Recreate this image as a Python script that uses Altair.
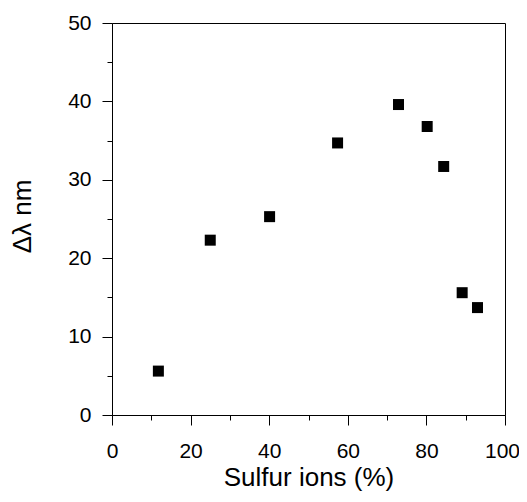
import altair as alt
import pandas as pd

# Data
sulfur_pct = [11.8, 25.0, 40.1, 57.4, 72.9, 80.2, 84.4, 89.1, 93.0]
delta_lambda = [5.6, 22.3, 25.3, 34.7, 39.6, 36.8, 31.7, 15.6, 13.7]

x_ticks = [0, 10, 20, 30, 40, 50, 60, 70, 80, 90, 100]
y_ticks = [0, 5, 10, 15, 20, 25, 30, 35, 40, 45, 50]

df = pd.DataFrame({"x": sulfur_pct, "y": delta_lambda})

FONT = "Liberation Sans"

x_axis = alt.Axis(
    values=x_ticks,
    tickSize={"condition": {"test": "datum.value % 20 === 0", "value": 10}, "value": 5},
    labelExpr="datum.value % 20 === 0 ? datum.label : ''",
    labelOffset={"condition": {"test": "datum.value === 100", "value": -3}, "value": 0},
    labelFont=FONT, labelFontSize=21, labelColor="black", labelPadding=15,
    labelOverlap=False, labelFlush=False, labelBound=False,
    domainColor="black", tickColor="black", grid=False,
    title="Sulfur ions (%)", titleFont=FONT, titleFontSize=26,
    titleFontWeight="normal", titleColor="black",
    titleBaseline="alphabetic", titleY=70,
)

y_axis = alt.Axis(
    values=y_ticks,
    tickSize={"condition": {"test": "datum.value % 10 === 0", "value": 10}, "value": 5},
    labelExpr="datum.value % 10 === 0 ? datum.label : ''",
    labelFont=FONT, labelFontSize=21, labelColor="black", labelPadding=11,
    labelOverlap=False, labelFlush=False, labelBound=False,
    domainColor="black", tickColor="black", grid=False,
    title="Δλ nm", titleFont=FONT, titleFontSize=26,
    titleFontWeight="normal", titleColor="black",
    titleAngle=-90, titleX=-90, titleY=193, titleAlign="center", titleBaseline="middle",
)

chart = (
    alt.Chart(df)
    .mark_square(size=121, color="black", opacity=1)
    .encode(
        x=alt.X("x:Q", scale=alt.Scale(domain=[0, 100], nice=False, zero=False), axis=x_axis),
        y=alt.Y("y:Q", scale=alt.Scale(domain=[0, 50], nice=False, zero=False), axis=y_axis),
    )
    .properties(
        width=393,
        height=392,
        autosize=alt.AutoSizeParams(type="none"),
        padding={"left": 104, "top": 15, "right": 14, "bottom": 76},
    )
    .configure_view(stroke="black", strokeWidth=1)
)

chart.save("out.html", embed_options={"renderer": "svg", "actions": False})
